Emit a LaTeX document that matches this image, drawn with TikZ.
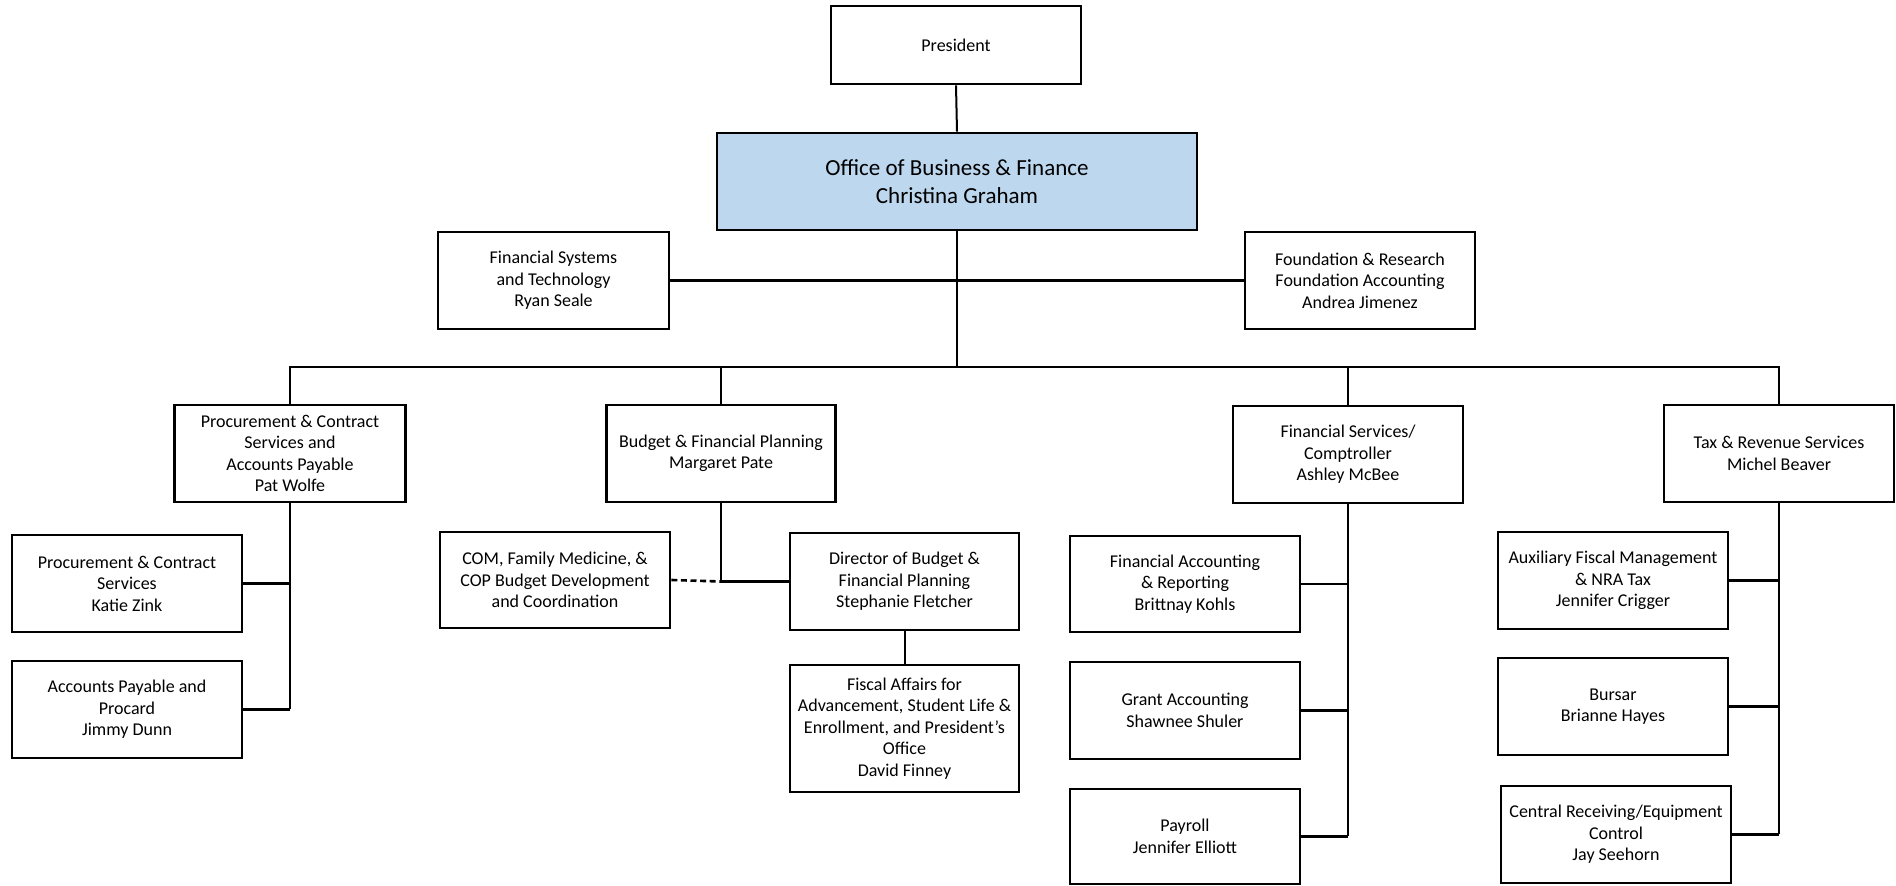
\documentclass[tikz,border=0pt]{standalone}
\usepackage{fontspec}
\setmainfont{Carlito}
\definecolor{hdblue}{HTML}{BDD7EE}
\begin{document}
\begin{tikzpicture}[x=0.5pt,y=-0.5pt,
  bx/.style 2 args={draw=black, line width=1.3pt, align=center, inner sep=1pt,
     minimum width={#1*0.5pt}, minimum height={#2*0.5pt},
     font=\fontsize{9}{10.75}\selectfont},
  conn/.style={line width=1pt, draw=black},
  stub/.style={line width=1.4pt, draw=black},
  dconn/.style={line width=1.3pt, draw=black, dash pattern=on 3pt off 1.8pt}]
\useasboundingbox (0,0) rectangle (1896,886);

\node[bx={250}{78}] (pres) at (956,45) {President};
\node[bx={480}{97}, fill=hdblue, font=\fontsize{11.5}{14}\selectfont] (office) at (957,181.5) {Office of Business \& Finance\\Christina Graham};
\node[bx={231}{97}] (fst) at (553.5,280.5) {Financial Systems\\and Technology\\Ryan Seale};
\node[bx={230}{97}] (found) at (1360,280.5) {Foundation \& Research\\Foundation Accounting\\Andrea Jimenez};

\node[bx={231}{97}] (proc) at (290,453.5) {Procurement \& Contract\\Services and\\Accounts Payable\\Pat Wolfe};
\node[bx={229}{97}] (budget) at (721,453.5) {Budget \& Financial Planning\\Margaret Pate};
\node[bx={230}{97}] (finserv) at (1348,454.5) {Financial Services/\\Comptroller\\Ashley McBee};
\node[bx={230}{97}] (tax) at (1779,453.5) {Tax \& Revenue Services\\Michel Beaver};

\node[bx={230}{97}] (kz) at (127,583.5) {Procurement \& Contract\\Services\\Katie Zink};
\node[bx={230}{97}] (jd) at (127,709.5) {Accounts Payable and\\Procard\\Jimmy Dunn};

\node[bx={230}{96}] (com) at (555,580) {COM, Family Medicine, \&\\COP Budget Development\\and Coordination};
\node[bx={229}{97}] (dir) at (904.5,581.5) {Director of Budget \&\\Financial Planning\\Stephanie Fletcher};
\node[bx={229}{127}] (fisc) at (904.5,728.5) {Fiscal Affairs for\\Advancement, Student Life \&\\Enrollment, and President’s\\Office\\David Finney};

\node[bx={230}{96}] (fa) at (1185,584) {Financial Accounting\\\& Reporting\\Brittnay Kohls};
\node[bx={230}{97}] (ga) at (1185,710.5) {Grant Accounting\\Shawnee Shuler};
\node[bx={230}{95}] (pay) at (1185,836.5) {Payroll\\Jennifer Elliott};

\node[bx={230}{97}] (aux) at (1613,580.5) {Auxiliary Fiscal Management\\\& NRA Tax\\Jennifer Crigger};
\node[bx={230}{97}] (bursar) at (1613,706.5) {Bursar\\Brianne Hayes};
\node[bx={230}{97}] (central) at (1616,834.5) {Central Receiving/Equipment\\Control\\Jay Seehorn};

% top connectors
\draw[conn] (pres.south) -- (office.north);
\coordinate (bus) at (957,367);
\draw[conn] (office.south) -- (bus);
\draw[stub] (fst.east) -- (found.west);
\draw[stub] (proc.north) |- (bus) -| (tax.north);
\draw[conn] (budget.north) -- (budget.north |- bus);
\draw[conn] (finserv.north) -- (finserv.north |- bus);

% procurement
\draw[conn] (proc.south) -- (proc.south |- jd.east);
\draw[stub] (jd.east) -- (jd.east -| proc.south);
\draw[stub] (kz.east) -- (kz.east -| proc.south);

% budget
\coordinate (bj) at (budget.south |- dir.west);
\draw[conn] (budget.south) -- (bj);
\draw[stub] (bj) -- (dir.west);
\draw[dconn] (com.east) -- (bj);
\draw[conn] (dir.south) -- (fisc.north);

% financial services
\draw[conn] (finserv.south) -- (finserv.south |- pay.east);
\draw[stub] (pay.east) -- (pay.east -| finserv.south);
\draw[stub] (fa.east) -- (fa.east -| finserv.south);
\draw[stub] (ga.east) -- (ga.east -| finserv.south);

% tax
\draw[conn] (tax.south) -- (tax.south |- central.east);
\draw[stub] (central.east) -- (central.east -| tax.south);
\draw[stub] (aux.east) -- (aux.east -| tax.south);
\draw[stub] (bursar.east) -- (bursar.east -| tax.south);
\end{tikzpicture}
\end{document}
